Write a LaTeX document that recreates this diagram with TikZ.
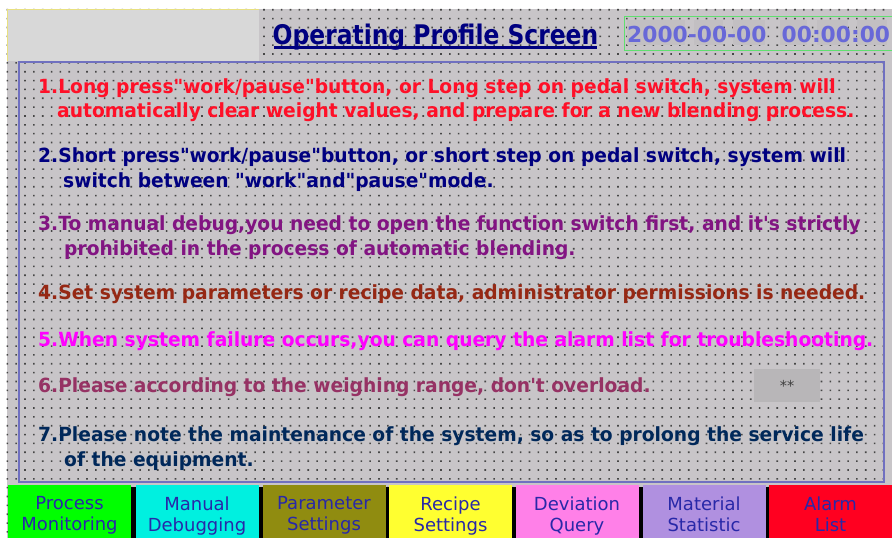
\documentclass[tikz,border=0pt]{standalone}
\usepackage{fontspec}
\newfontfamily\hmi{DejaVu Sans}[FakeStretch=0.958]
\newfontfamily\hmibtn{DejaVu Sans}[FakeStretch=1.0]
\newfontfamily\hmititle{DejaVu Sans}[FakeStretch=0.867]
\newfontfamily\hmidate{DejaVu Sans}[FakeStretch=0.99]

\definecolor{panelbg}{RGB}{200,197,200}
\definecolor{dotcol}{RGB}{70,70,70}
\definecolor{boxgray}{RGB}{216,216,216}
\definecolor{boxyellow}{RGB}{232,224,128}
\definecolor{framecol}{RGB}{112,112,192}
\definecolor{datebox}{RGB}{96,224,112}
\definecolor{datetext}{RGB}{104,104,216}
\definecolor{datefield}{RGB}{194,191,194}
\definecolor{titlecol}{RGB}{0,0,128}
\definecolor{starbox}{RGB}{184,182,184}
\definecolor{cone}{RGB}{255,16,40}
\definecolor{ctwo}{RGB}{0,0,128}
\definecolor{cthree}{RGB}{130,20,130}
\definecolor{cfour}{RGB}{150,40,20}
\definecolor{cfive}{RGB}{255,0,255}
\definecolor{csix}{RGB}{150,50,100}
\definecolor{cseven}{RGB}{0,40,90}
\definecolor{btntext}{RGB}{40,40,168}
\definecolor{bgreen}{RGB}{0,255,0}
\definecolor{bcyan}{RGB}{0,240,224}
\definecolor{bolive}{RGB}{144,140,16}
\definecolor{byellow}{RGB}{255,255,48}
\definecolor{bpink}{RGB}{255,128,232}
\definecolor{blav}{RGB}{176,144,224}
\definecolor{bred}{RGB}{255,0,32}

\tikzset{
  msg/.style={anchor=base west, inner sep=0pt, font=\hmi\bfseries\fontsize{19.5}{21}\selectfont},
  btn/.style={inner sep=0pt, minimum width=123, minimum height=64, align=center,
    text=btntext, font=\hmibtn\fontsize{18}{21}\selectfont,
    execute at begin node=\strut, execute at end node=\strut},
  datefld/.style={fill=datefield, inner sep=0pt},
}

\begin{document}
\begin{tikzpicture}[x=1pt,y=-1pt]
\useasboundingbox (0,0) rectangle (892,538);
\fill[white] (0,0) rectangle (892,538);
\fill[panelbg] (7,9) rectangle (892,538);

% design-grid dots
\fill[dotcol] foreach \i in {0,...,99} { foreach \j in {0,...,59} {
  ({7.3+8.85*\i-0.8},{9.75+8.85*\j-0.8}) rectangle ++(1.6,1.6) } };

% blank header box
\fill[boxgray] (7,9) rectangle (259,61);
\draw[boxyellow, line width=1.2] (7.6,61) -- (7.6,9.6) -- (259,9.6);

% title
\node[anchor=base, inner sep=0pt, text=titlecol,
  font=\hmititle\bfseries\fontsize{27}{29}\selectfont] (title) at (435.5,44) {Operating Profile Screen};
\draw[titlecol, line width=2.6] (274,47.5) -- (597,47.5);

% date / time display
\fill[datefld] (627,20) rectangle (685,45);
\fill[datefld] (694,20) rectangle (723,45);
\fill[datefld] (733,20) rectangle (765,45);
\fill[datefld] (780,20) rectangle (807,45);
\fill[datefld] (817,20) rectangle (848,45);
\fill[datefld] (857,20) rectangle (887,45);
\draw[datebox, line width=1.2] (624.5,16.5) rectangle (900,50.5);
\node[anchor=base west, inner sep=0pt, text=datetext,
  font=\hmidate\bfseries\fontsize{22}{24}\selectfont] (clock) at (627,42) {2000-00-00\ \ 00:00:00};

% message frame
\draw[framecol, line width=2] (19,62) rectangle (884,482);

\node[msg, text=cone] (l1a) at (38,93) {1.Long press"work/pause"button, or Long step on pedal switch, system will};
\node[msg, text=cone] (l1b) at (57,117) {automatically clear weight values, and prepare for a new blending process.};
\node[msg, text=ctwo] (l2a) at (38,162) {2.Short press"work/pause"button, or short step on pedal switch, system will};
\node[msg, text=ctwo] (l2b) at (63,187) {switch between "work"and"pause"mode.};
\node[msg, text=cthree] (l3a) at (38,230) {3.To manual debug,you need to open the function switch first, and it's strictly};
\node[msg, text=cthree] (l3b) at (64,255) {prohibited in the process of automatic blending.};
\node[msg, text=cfour] (l4) at (38,299) {4.Set system parameters or recipe data, administrator permissions is needed.};
\node[msg, text=cfive] (l5) at (38,346) {5.When system failure occurs,you can query the alarm list for troubleshooting.};
\node[msg, text=csix] (l6) at (38,392) {6.Please according to the weighing range, don't overload.};
\node[msg, text=cseven] (l7a) at (38,441) {7.Please note the maintenance of the system, so as to prolong the service life};
\node[msg, text=cseven] (l7b) at (64,466) {of the equipment.};

\node[fill=starbox, minimum width=66, minimum height=33, inner sep=0pt,
  text=black!75, font=\hmi\fontsize{15}{16}\selectfont] (stars) at (787,385.5) {**};

% navigation buttons
\fill[black] (131,487) rectangle (769,551);
\node[btn, fill=bgreen] (b1) at (69.5,517) {Process\\Monitoring};
\node[btn, fill=bcyan] (b2) at (197,517) {Manual\\Debugging};
\node[btn, fill=bolive] (b3) at (324,517) {Parameter\\Settings};
\node[btn, fill=byellow] (b4) at (450.5,517) {Recipe\\Settings};
\node[btn, fill=bpink] (b5) at (577,517) {Deviation\\Query};
\node[btn, fill=blav] (b6) at (704,517) {Material\\Statistic};
\node[btn, fill=bred] (b7) at (830.5,517) {Alarm\\List};
\end{tikzpicture}
\end{document}
